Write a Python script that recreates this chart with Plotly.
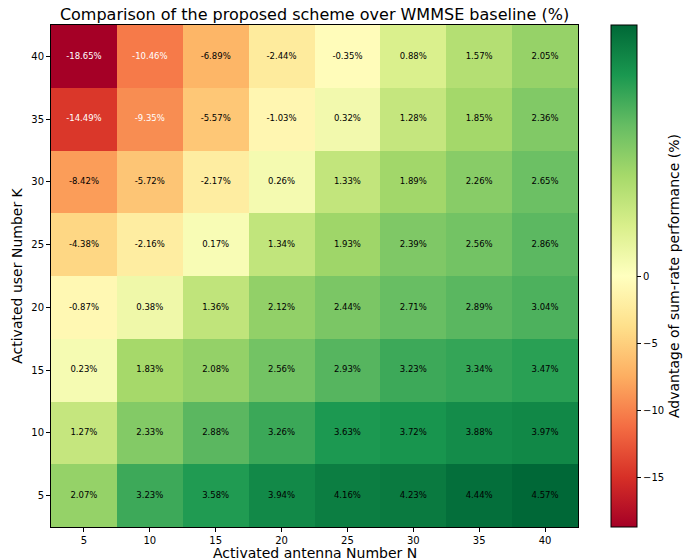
import plotly.graph_objects as go

antennas = [5, 10, 15, 20, 25, 30, 35, 40]
users = [40, 35, 30, 25, 20, 15, 10, 5]
advantage = [
    [-18.65, -10.46, -6.89, -2.44, -0.35, 0.88, 1.57, 2.05],
    [-14.49, -9.35, -5.57, -1.03, 0.32, 1.28, 1.85, 2.36],
    [-8.42, -5.72, -2.17, 0.26, 1.33, 1.89, 2.26, 2.65],
    [-4.38, -2.16, 0.17, 1.34, 1.93, 2.39, 2.56, 2.86],
    [-0.87, 0.38, 1.36, 2.12, 2.44, 2.71, 2.89, 3.04],
    [0.23, 1.83, 2.08, 2.56, 2.93, 3.23, 3.34, 3.47],
    [1.27, 2.33, 2.88, 3.26, 3.63, 3.72, 3.88, 3.97],
    [2.07, 3.23, 3.58, 3.94, 4.16, 4.23, 4.44, 4.57],
]
cbar_ticks = [-15, -10, -5, 0]

vmin = min(min(r) for r in advantage)
vmax = max(max(r) for r in advantage)

def norm(v):
    # two-slope normalisation centred at 0
    if v < 0:
        return 0.5 + 0.5 * v / (-vmin)
    return 0.5 + 0.5 * v / vmax

znorm = [[norm(v) for v in row] for row in advantage]

rdylgn = ['rgb(165,0,38)', 'rgb(215,48,39)', 'rgb(244,109,67)', 'rgb(253,174,97)',
          'rgb(254,224,139)', 'rgb(255,255,191)', 'rgb(217,239,139)', 'rgb(166,217,106)',
          'rgb(102,189,99)', 'rgb(26,152,80)', 'rgb(0,104,55)']
cscale = [[i / 10, c] for i, c in enumerate(rdylgn)]

fig = go.Figure()
fig.add_trace(go.Heatmap(
    x=antennas, y=users, z=znorm, zmin=0, zmax=1,
    colorscale=cscale, hoverinfo='skip',
    colorbar=dict(
        x=1.063, xanchor='left', y=0.5, yanchor='middle', len=1.0, lenmode='fraction',
        thickness=26, outlinewidth=1, outlinecolor='black', xpad=0, ypad=0,
        tickvals=[norm(t) for t in cbar_ticks],
        ticktext=[str(t).replace('-', '\u2212') for t in cbar_ticks],
        ticks='outside', ticklen=4, tickcolor='black',
        tickfont=dict(size=10, color='black', family='DejaVu Sans'),
        title=dict(text='Advantage of sum-rate performance (%)', side='right',
                   font=dict(size=14, color='black', family='DejaVu Sans')),
    ),
))

tx, ty, tt, tc = [], [], [], []
for i, k in enumerate(users):
    for j, n in enumerate(antennas):
        v = advantage[i][j]
        tx.append(n)
        ty.append(k)
        tt.append(f"{v:.2f}%")
        tc.append('white' if v < -9 else 'black')

fig.add_trace(go.Scatter(
    x=tx, y=ty, text=tt, mode='text',
    textfont=dict(size=8.5, color=tc, family='DejaVu Sans'),
    hoverinfo='skip', showlegend=False,
))

axis_common = dict(
    showgrid=False, zeroline=False, showline=True, linecolor='black', linewidth=1,
    mirror=True, ticks='outside', ticklen=4, tickcolor='black',
    tickfont=dict(size=10, color='black', family='DejaVu Sans'),
    tickvals=antennas, range=[2.5, 42.5],
)

fig.update_layout(
    width=693, height=560,
    margin=dict(l=51, r=115, t=25, b=33, autoexpand=False),
    paper_bgcolor='white', plot_bgcolor='white',
    font=dict(family='DejaVu Sans', color='black'),
    title=dict(text='Comparison of the proposed scheme over WMMSE baseline (%)',
               x=(51 + 527 / 2) / 693, xanchor='center', y=1 - 14 / 560, yanchor='middle',
               font=dict(size=16, color='black', family='DejaVu Sans')),
    xaxis=axis_common,
    yaxis=dict(axis_common, title=dict(text='Activated user Number K', standoff=5,
                                       font=dict(size=14, color='black', family='DejaVu Sans'))),
)

fig.add_annotation(
    text='Activated antenna Number N', xref='paper', yref='paper',
    x=0.5, y=-(553 - 527) / 502, xanchor='center', yanchor='middle', showarrow=False,
    font=dict(size=14, color='black', family='DejaVu Sans'),
)

fig.write_html("out.html", config={"displayModeBar": False},
               post_script="document.body.style.margin='0px';")
